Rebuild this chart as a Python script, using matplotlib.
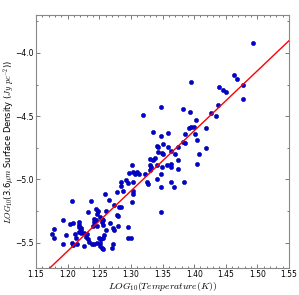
import matplotlib
matplotlib.use("Agg")
import matplotlib.pyplot as plt
import numpy as np
from matplotlib.ticker import MultipleLocator

plt.rcParams['mathtext.fontset'] = 'cm'

log_temp = [
    1.493, 1.4635, 1.468, 1.477, 1.477, 1.446, 1.450, 1.439, 1.395, 1.438,
    1.427, 1.435, 1.403, 1.393, 1.383, 1.347, 1.319, 1.392, 1.3955, 1.399,
    1.418, 1.3355, 1.347, 1.359, 1.386, 1.401, 1.4045, 1.383, 1.385, 1.342,
    1.343, 1.350, 1.359, 1.375, 1.418, 1.343, 1.3487, 1.350, 1.363, 1.370,
    1.407, 1.3297, 1.338, 1.3345, 1.375, 1.330, 1.332, 1.342, 1.3497, 1.3566,
    1.363, 1.364, 1.374, 1.404, 1.3307, 1.348, 1.322, 1.341, 1.326, 1.3275,
    1.363, 1.384, 1.347, 1.3677, 1.348,
    1.3013, 1.297, 1.3038, 1.3065, 1.3092, 1.3133, 1.2923, 1.295, 1.2839, 1.2839,
    1.3038, 1.2775, 1.288, 1.3029, 1.3034, 1.3013, 1.2596, 1.265, 1.2733, 1.2817,
    1.2839, 1.2775, 1.280, 1.2364, 1.2064, 1.2317, 1.2449, 1.2475, 1.246, 1.2607,
    1.2512, 1.2422, 1.2444, 1.2422, 1.2538, 1.2564, 1.2538, 1.267, 1.2564, 1.2406,
    1.246, 1.2722, 1.280, 1.218, 1.2185, 1.222, 1.222, 1.218, 1.2207, 1.226,
    1.2038, 1.208, 1.2175, 1.1922, 1.179, 1.1748, 1.1785, 1.197, 1.2117, 1.2132,
    1.2064, 1.208, 1.2143, 1.1922, 1.229, 1.2327, 1.2343, 1.238, 1.2264, 1.2422,
    1.2469, 1.2512, 1.250, 1.2528, 1.2555, 1.2512, 1.254, 1.2555, 1.2706, 1.2712,
    1.296, 1.2997, 1.296, 1.2733, 1.231, 1.258, 1.2607,
]
log_density = [
    -3.92, -4.177, -4.203, -4.255, -4.365, -4.294, -4.31, -4.273, -4.229, -4.41,
    -4.477, -4.495, -4.53, -4.466, -4.443, -4.424, -4.49, -4.594, -4.586, -4.586,
    -4.591, -4.622, -4.654, -4.635, -4.64, -4.64, -4.69, -4.706, -4.716, -4.737,
    -4.745, -4.724, -4.74, -4.74, -4.75, -4.784, -4.79, -4.80, -4.776, -4.797,
    -4.797, -4.836, -4.828, -4.849, -4.844, -4.888, -4.906, -4.888, -4.906, -4.888,
    -4.88, -4.90, -4.919, -4.875, -4.927, -4.959, -4.96, -4.997, -5.023, -5.039,
    -5.023, -5.023, -5.06, -5.0625, -5.26,
    -4.883, -4.953, -4.945, -4.961, -4.945, -4.961, -5.008, -5.029, -5.023, -5.049,
    -5.018, -5.10, -5.09, -5.09, -5.117, -5.18, -5.117, -5.164, -5.20, -5.216,
    -5.219, -5.28, -5.29, -5.17, -5.17, -5.26, -5.234, -5.248, -5.273, -5.248,
    -5.30, -5.31, -5.32, -5.34, -5.31, -5.325, -5.335, -5.344, -5.36, -5.37,
    -5.37, -5.383, -5.37, -5.357, -5.38, -5.388, -5.40, -5.416, -5.427, -5.422,
    -5.35, -5.344, -5.336, -5.318, -5.39, -5.43, -5.466, -5.44, -5.43, -5.466,
    -5.50, -5.516, -5.513, -5.508, -5.455, -5.474, -5.492, -5.51, -5.53, -5.508,
    -5.50, -5.502, -5.466, -5.474, -5.466, -5.53, -5.539, -5.552, -5.539, -5.513,
    -5.46, -5.466, -5.375, -5.398, -5.43, -5.443, -5.404,
]

fit_slope = 4.76
fit_intercept = -11.28

fig = plt.figure(figsize=(2.99, 2.95), dpi=100)
ax = fig.add_axes([0.12, 0.092, 0.847, 0.857])

ax.plot(log_temp, log_density, 'o', color='#0000dd', mec='#00008b', mew=0.4, ms=3.0, zorder=2)
xl = np.array([1.15, 1.55])
ax.plot(xl, fit_slope * xl + fit_intercept, '-', color='red', lw=1.0, zorder=3)

ax.set_xlim(1.15, 1.55)
ax.set_ylim(-5.7, -3.7)
ax.set_xticks(np.arange(1.15, 1.5501, 0.05))
ax.set_yticks([-5.5, -5.0, -4.5, -4.0])
ax.xaxis.set_minor_locator(MultipleLocator(0.01))
ax.yaxis.set_minor_locator(MultipleLocator(0.25))
ax.tick_params(which='both', direction='in', top=True, right=True, labelsize=5.5, width=0.5, colors='#444444', labelcolor='black', pad=1.5)
ax.tick_params(which='major', length=3)
ax.tick_params(which='minor', length=1.5)
for s in ax.spines.values():
    s.set_color('#888888')
    s.set_linewidth(0.8)

ax.set_xlabel(r'$LOG_{10}(Temperature(K))$', fontsize=7, labelpad=1)
ax.set_ylabel(r'$LOG_{10}$(3.6$\mu m$ Surface Density ($Jy\ pc^{-2}$))', fontsize=6)
ax.yaxis.set_label_coords(-0.078, 0.5)

fig.savefig('out.png', dpi=100)
